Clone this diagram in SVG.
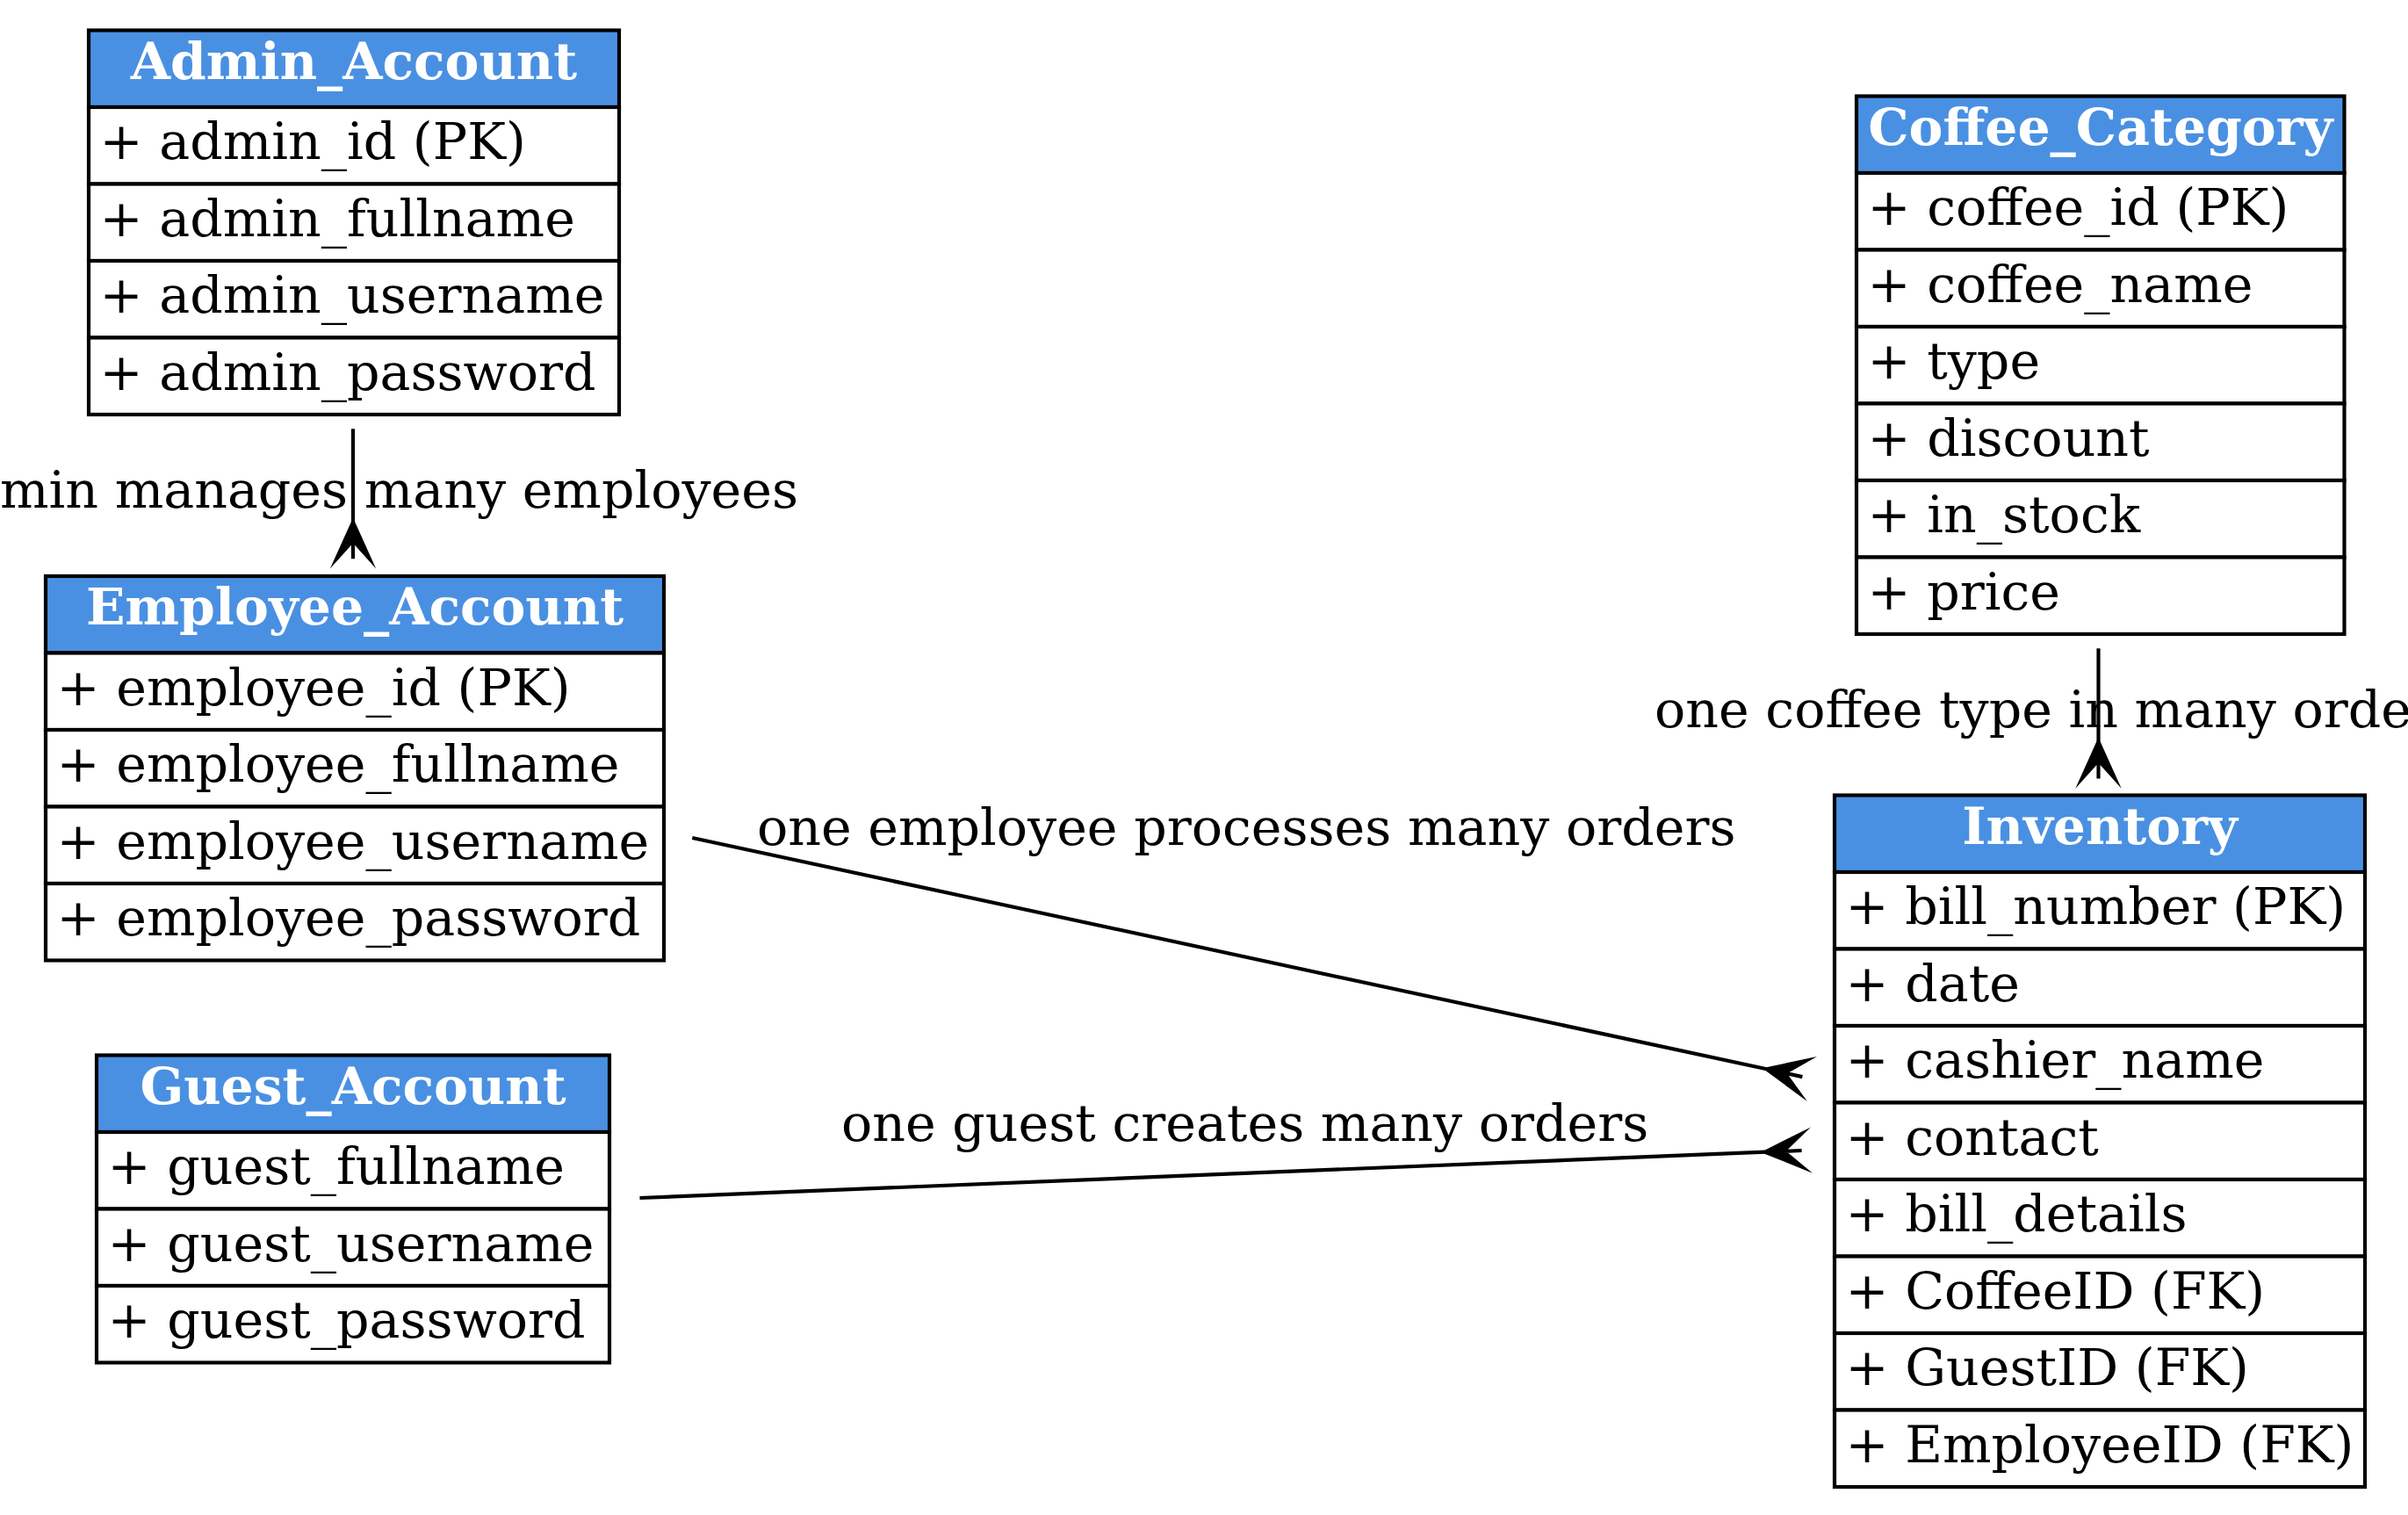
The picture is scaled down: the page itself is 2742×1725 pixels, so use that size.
<svg xmlns="http://www.w3.org/2000/svg" width="2742" height="1725" viewBox="0 0 2742 1725">
<style>
.bg{fill:#ffffff}
.cell{fill:#ffffff;stroke:#000000;stroke-width:4.17}
.hdr{fill:#4a90e2;stroke:#000000;stroke-width:4.17}
.t{font-family:"DejaVu Serif","Liberation Serif",serif;font-size:58.6px;fill:#000000}
.h{font-family:"DejaVu Serif","Liberation Serif",serif;font-size:58.33px;font-weight:bold;fill:#ffffff;text-anchor:middle}
.edge{fill:none;stroke:#000000;stroke-width:4.17}
.crow{fill:#000000;stroke:#000000;stroke-width:4.17;stroke-linejoin:miter;stroke-miterlimit:10}
</style>
<rect class="bg" x="0" y="0" width="2742" height="1725"/>

<g id="connectors">
  <g id="admin-employee">
    <path class="edge" d="M402,488.3 L402,594.6"/>
    <polygon class="crow" points="402,594.6 383.2,636.3 402,615.45 402,636.3 402,615.45 420.8,636.3 402,594.6"/>
    <text class="t" x="0" y="578">min manages many employees</text>
  </g>
  <g id="coffee-inventory">
    <path class="edge" d="M2389.5,738.3 L2389.5,844.7"/>
    <polygon class="crow" points="2389.5,844.7 2370.7,886.4 2389.5,865.55 2389.5,886.4 2389.5,865.55 2408.3,886.4 2389.5,844.7"/>
    <text class="t" x="1884" y="828">one coffee type in many orde</text>
  </g>
  <g id="employee-inventory">
    <path class="edge" d="M788.3,954 L2011.7,1217.3"/>
    <polygon class="crow" points="2011.7,1217.3 2048.44,1244.42 2032.05,1221.7 2052.4,1226.1 2032.05,1221.7 2056.36,1207.79 2011.7,1217.3"/>
    <text class="t" x="862" y="961.5">one employee processes many orders</text>
  </g>
  <g id="guest-inventory">
    <path class="edge" d="M728.5,1364 L2010,1311.7"/>
    <polygon class="crow" points="2010,1311.7 2052.37,1328.72 2030.8,1310.85 2051.6,1310 2030.8,1310.85 2050.84,1291.28 2010,1311.7"/>
    <text class="t" x="958" y="1298.7">one guest creates many orders</text>
  </g>
</g>

<g id="Admin_Account">
  <rect class="hdr" x="101" y="34.5" width="604" height="87.5"/>
  <rect class="cell" x="101" y="122" width="604" height="87.5"/>
  <rect class="cell" x="101" y="209.5" width="604" height="87.5"/>
  <rect class="cell" x="101" y="297" width="604" height="87.5"/>
  <rect class="cell" x="101" y="384.5" width="604" height="87.5"/>
  <text class="h" x="403" y="89.5">Admin_Account</text>
  <text class="t" x="113.5" y="181">+ admin_id (PK)</text>
  <text class="t" x="113.5" y="268.5">+ admin_fullname</text>
  <text class="t" x="113.5" y="356">+ admin_username</text>
  <text class="t" x="113.5" y="443.5">+ admin_password</text>
</g>

<g id="Employee_Account">
  <rect class="hdr" x="52" y="656" width="704" height="87.5"/>
  <rect class="cell" x="52" y="743.5" width="704" height="87.5"/>
  <rect class="cell" x="52" y="831" width="704" height="87.5"/>
  <rect class="cell" x="52" y="918.5" width="704" height="87.5"/>
  <rect class="cell" x="52" y="1006" width="704" height="87.5"/>
  <text class="h" x="404" y="711">Employee_Account</text>
  <text class="t" x="64.5" y="802.5">+ employee_id (PK)</text>
  <text class="t" x="64.5" y="890">+ employee_fullname</text>
  <text class="t" x="64.5" y="977.5">+ employee_username</text>
  <text class="t" x="64.5" y="1065">+ employee_password</text>
</g>

<g id="Guest_Account">
  <rect class="hdr" x="110" y="1201.5" width="584" height="87.5"/>
  <rect class="cell" x="110" y="1289" width="584" height="87.5"/>
  <rect class="cell" x="110" y="1376.5" width="584" height="87.5"/>
  <rect class="cell" x="110" y="1464" width="584" height="87.5"/>
  <text class="h" x="402" y="1256.5">Guest_Account</text>
  <text class="t" x="122.5" y="1348">+ guest_fullname</text>
  <text class="t" x="122.5" y="1435.5">+ guest_username</text>
  <text class="t" x="122.5" y="1523">+ guest_password</text>
</g>

<g id="Coffee_Category">
  <rect class="hdr" x="2114" y="109.5" width="555.5" height="87.5"/>
  <rect class="cell" x="2114" y="197" width="555.5" height="87.5"/>
  <rect class="cell" x="2114" y="284.5" width="555.5" height="87.5"/>
  <rect class="cell" x="2114" y="372" width="555.5" height="87.5"/>
  <rect class="cell" x="2114" y="459.5" width="555.5" height="87.5"/>
  <rect class="cell" x="2114" y="547" width="555.5" height="87.5"/>
  <rect class="cell" x="2114" y="634.5" width="555.5" height="87.5"/>
  <text class="h" x="2391.75" y="164.5">Coffee_Category</text>
  <text class="t" x="2126.5" y="256">+ coffee_id (PK)</text>
  <text class="t" x="2126.5" y="343.5">+ coffee_name</text>
  <text class="t" x="2126.5" y="431">+ type</text>
  <text class="t" x="2126.5" y="518.5">+ discount</text>
  <text class="t" x="2126.5" y="606">+ in_stock</text>
  <text class="t" x="2126.5" y="693.5">+ price</text>
</g>

<g id="Inventory">
  <rect class="hdr" x="2089" y="905.5" width="604" height="87.5"/>
  <rect class="cell" x="2089" y="993" width="604" height="87.5"/>
  <rect class="cell" x="2089" y="1080.5" width="604" height="87.5"/>
  <rect class="cell" x="2089" y="1168" width="604" height="87.5"/>
  <rect class="cell" x="2089" y="1255.5" width="604" height="87.5"/>
  <rect class="cell" x="2089" y="1343" width="604" height="87.5"/>
  <rect class="cell" x="2089" y="1430.5" width="604" height="87.5"/>
  <rect class="cell" x="2089" y="1518" width="604" height="87.5"/>
  <rect class="cell" x="2089" y="1605.5" width="604" height="87.5"/>
  <text class="h" x="2391" y="960.5">Inventory</text>
  <text class="t" x="2101.5" y="1052">+ bill_number (PK)</text>
  <text class="t" x="2101.5" y="1139.5">+ date</text>
  <text class="t" x="2101.5" y="1227">+ cashier_name</text>
  <text class="t" x="2101.5" y="1314.5">+ contact</text>
  <text class="t" x="2101.5" y="1402">+ bill_details</text>
  <text class="t" x="2101.5" y="1489.5">+ CoffeeID (FK)</text>
  <text class="t" x="2101.5" y="1577">+ GuestID (FK)</text>
  <text class="t" x="2101.5" y="1664.5">+ EmployeeID (FK)</text>
</g>
</svg>
